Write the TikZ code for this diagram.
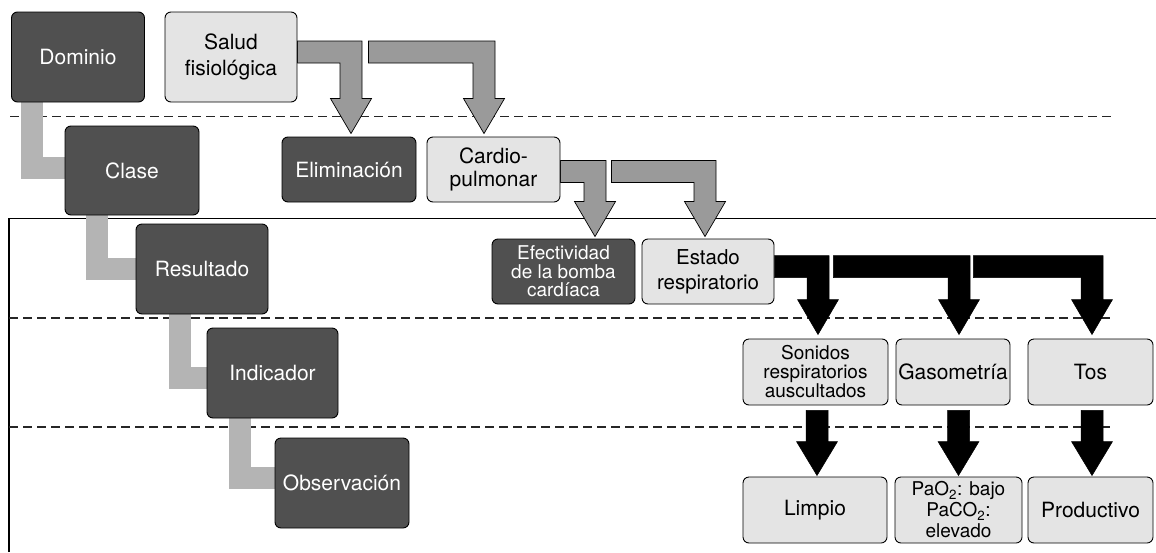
\documentclass[tikz,border=0pt]{standalone}
\usepackage{fontspec}
\setmainfont{TeX Gyre Heros}
\usetikzlibrary{calc}
\definecolor{boxdark}{HTML}{505050}
\definecolor{boxlight}{HTML}{E4E4E4}
\definecolor{linkgray}{HTML}{B4B4B4}
\definecolor{arrgray}{HTML}{9A9A9A}
\pgfdeclarelayer{lines}
\pgfdeclarelayer{arrows}
\pgfsetlayers{lines,arrows,main}
\newcommand{\mybentarr}[3]{%
  \path[#1] let \p1=(#2), \p2=(#3) in
   (\x1,\y1+11pt) -- (\x2+11pt,\y1+11pt) -- (\x2+11pt,\y2+35pt) -- (\x2+20.5pt,\y2+35pt)
   -- (\x2,\y2) -- (\x2-20.5pt,\y2+35pt) -- (\x2-11pt,\y2+35pt) -- (\x2-11pt,\y1-11pt)
   -- (\x1,\y1-11pt) -- cycle;}
\newcommand{\mystraightarr}[3]{%
  \path[#1] let \p1=(#2), \p2=(#3) in
   (\x2-11pt,\y1) -- (\x2+11pt,\y1) -- (\x2+11pt,\y2+34pt) -- (\x2+20.5pt,\y2+34pt)
   -- (\x2,\y2) -- (\x2-20.5pt,\y2+34pt) -- (\x2-11pt,\y2+34pt) -- cycle;}
\tikzset{
  basebox/.style={rounded corners=6pt, draw=black, line width=0.9pt, inner sep=0pt,
    align=center, font=\fontsize{21}{25}\selectfont},
  darkbox/.style={basebox, fill=boxdark, text=white},
  lightbox/.style={basebox, fill=boxlight, text=black},
  smalltext/.style={font=\fontsize{19}{19}\selectfont},
  linkbar/.style={draw=linkgray, line width=22pt, line cap=butt, line join=miter},
  grayarrow/.style={fill=arrgray, draw=black, line width=0.7pt, line join=miter},
  blackarrow/.style={fill=black, draw=black, line width=0.5pt, line join=miter},
  sepdash/.style={draw=black!85, line width=1.1pt, dash pattern=on 9pt off 5pt},
  sepsolid/.style={draw=black, line width=1.1pt}
}
\begin{document}
\begin{tikzpicture}[x=1pt,y=-1pt]
\useasboundingbox (0,0) rectangle (1156,552);
% level nodes (left)
\node[darkbox, minimum width=133, minimum height=90] (dominio) at (78,57) {Dominio};
\node[darkbox, minimum width=134, minimum height=89] (clase) at (132,170.5) {Clase};
\node[darkbox, minimum width=132, minimum height=90] (resultado) at (202,269) {Resultado};
\node[darkbox, minimum width=131, minimum height=90] (indicador) at (272.5,373) {Indicador};
\node[darkbox, minimum width=134, minimum height=90] (observ) at (342,483) {Observación};
% example nodes
\node[lightbox, minimum width=132, minimum height=90, font=\fontsize{21}{26}\selectfont] (salud) at (231,57) {Salud\\fisiológica};
\node[darkbox, minimum width=134, minimum height=65] (elim) at (349,169.5) {Eliminación};
\node[lightbox, minimum width=133, minimum height=65, font=\fontsize{21}{23}\selectfont] (cardio) at (493.5,169.5) {Cardio-\\pulmonar};
\node[darkbox, minimum width=143, minimum height=65, font=\fontsize{19}{18.5}\selectfont] (efect) at (563.5,271.5) {Efectividad\\de la bomba\\cardíaca};
\node[lightbox, minimum width=132, minimum height=65, font=\fontsize{20.5}{25}\selectfont] (estado) at (708,271.5) {Estado\\respiratorio};
\node[lightbox, minimum width=145, minimum height=66, smalltext] (sonidos) at (815.5,372) {Sonidos\\respiratorios\\auscultados};
\node[lightbox, minimum width=114, minimum height=66] (gaso) at (953,372) {Gasometría};
\node[lightbox, minimum width=125, minimum height=66] (tos) at (1090.5,372) {Tos};
\node[lightbox, minimum width=144, minimum height=66] (limpio) at (815,510) {Limpio};
\node[lightbox, minimum width=127, minimum height=66, font=\fontsize{19}{21}\selectfont] (pao) at (958.5,510) {PaO\textsubscript{2}: bajo\\PaCO\textsubscript{2}:\\elevado};
\node[lightbox, minimum width=125, minimum height=66] (prod) at (1090.5,510) {Productivo};
% separator lines
\begin{pgfonlayer}{lines}
\coordinate (d1a) at (10,116.5); \coordinate (d1b) at (1112,116.5);
\coordinate (sa) at (9,552); \coordinate (sb) at (9,218.5); \coordinate (sc) at (1156,218.5);
\coordinate (d2a) at (9,318); \coordinate (d2b) at (1113,318);
\coordinate (d3a) at (9,427); \coordinate (d3b) at (1113,427);
\path[sepdash] (d1a) -- (d1b);
\path[sepsolid] (sa) -- (sb) -- (sc);
\path[sepdash] (d2a) -- (d2b);
\path[sepdash] (d3a) -- (d3b);
\end{pgfonlayer}
% connectors
\begin{pgfonlayer}{arrows}
\path[linkbar] ([xshift=20.5pt]dominio.south west) |- ([yshift=3pt]clase.west);
\path[linkbar] ([xshift=32.5pt]clase.south west) |- (resultado.west);
\path[linkbar] ([xshift=44.5pt]resultado.south west) |- ([yshift=-4.5pt]indicador.west);
\path[linkbar] ([xshift=33pt]indicador.south west) |- ([yshift=5pt]observ.west);
\coordinate (a1s) at ($(salud.east)+(0,-5)$);
\coordinate (a1t) at ($(elim.north)+(2,-3)$);
\coordinate (a2s) at ($(salud.east)+(71,-5)$);
\coordinate (a2t) at ($(cardio.north)+(-9.5,-3)$);
\mybentarr{grayarrow}{a1s}{a1t}
\mybentarr{grayarrow}{a2s}{a2t}
\coordinate (b1s) at ($(cardio.east)+(0,2)$);
\coordinate (b1t) at ($(efect.north)+(31.5,-2)$);
\coordinate (b2s) at ($(cardio.east)+(51,2)$);
\coordinate (b2t) at ($(estado.north)+(-3,-2)$);
\mybentarr{grayarrow}{b1s}{b1t}
\mybentarr{grayarrow}{b2s}{b2t}
\coordinate (c1s) at ($(estado.east)+(0,-5)$);
\coordinate (c1t) at ($(sonidos.north)+(2.5,-4)$);
\coordinate (c2s) at ($(estado.east)+(59,-5)$);
\coordinate (c2t) at ($(gaso.north)+(6,-4)$);
\coordinate (c3s) at ($(estado.east)+(199,-5)$);
\coordinate (c3t) at ($(tos.north)+(1.5,-4)$);
\mybentarr{blackarrow}{c1s}{c1t}
\mybentarr{blackarrow}{c2s}{c2t}
\mybentarr{blackarrow}{c3s}{c3t}
\coordinate (e1s) at ($(sonidos.south)+(0,5)$);
\coordinate (e1t) at ($(limpio.north)+(2,-1)$);
\coordinate (e2s) at ($(gaso.south)+(0,5)$);
\coordinate (e2t) at ($(pao.north)+(0,-1)$);
\coordinate (e3s) at ($(tos.south)+(0,5)$);
\coordinate (e3t) at ($(prod.north)+(1.5,-1)$);
\mystraightarr{blackarrow}{e1s}{e1t}
\mystraightarr{blackarrow}{e2s}{e2t}
\mystraightarr{blackarrow}{e3s}{e3t}
\end{pgfonlayer}
\end{tikzpicture}
\end{document}
